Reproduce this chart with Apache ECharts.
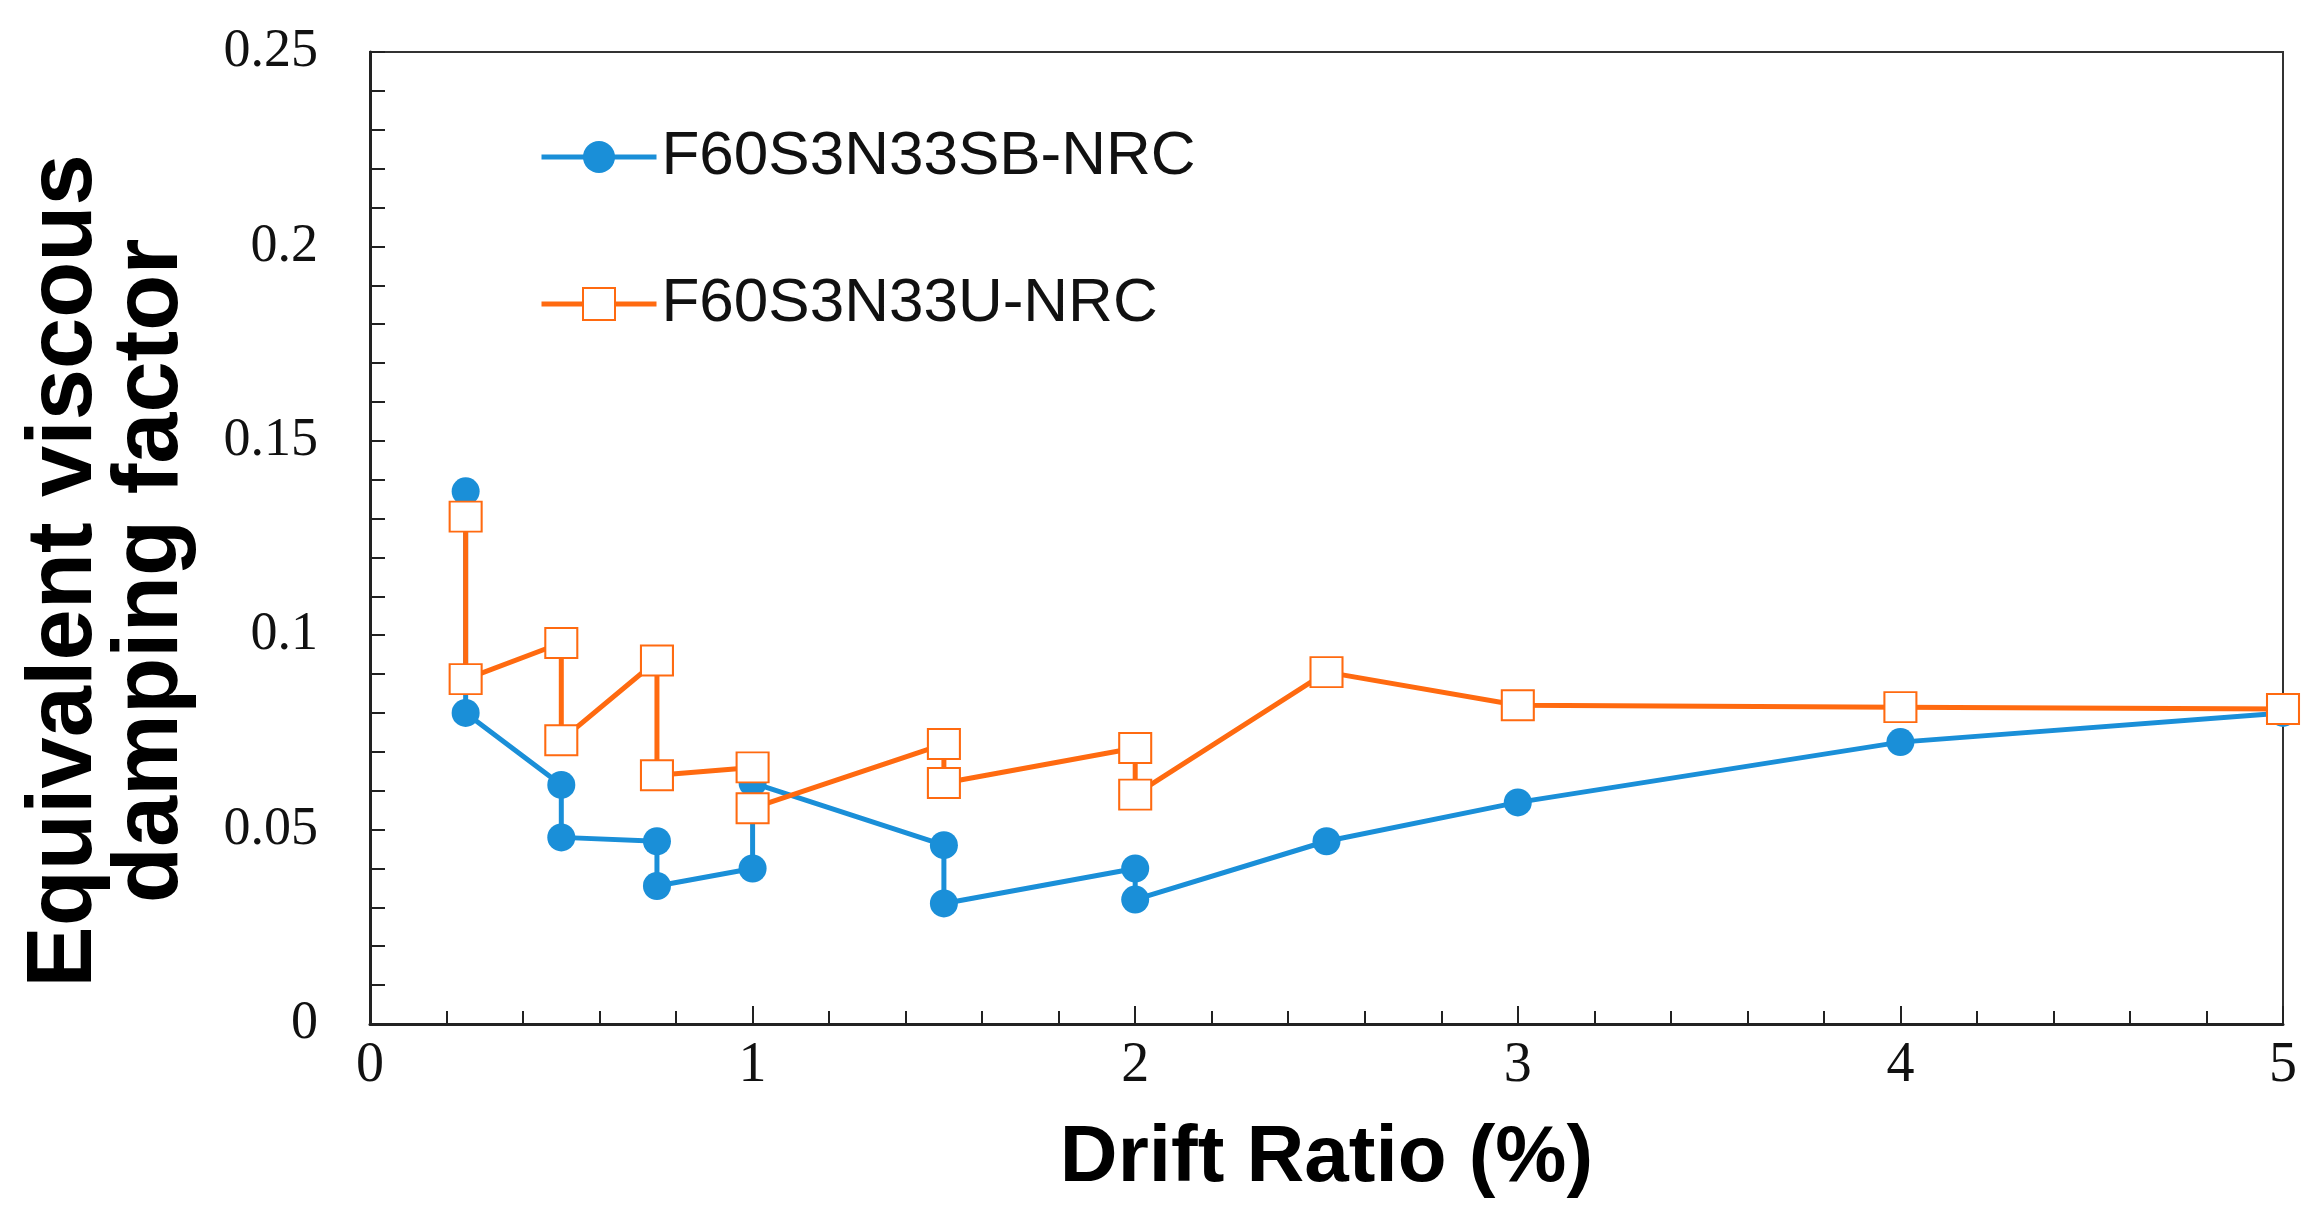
<!DOCTYPE html>
<html>
<head>
<meta charset="utf-8">
<script src="https://cdn.jsdelivr.net/npm/echarts@6/dist/echarts.min.js"></script>
<style>
html,body{margin:0;padding:0;background:#fff;}
#chart{width:2320px;height:1226px;}
</style>
</head>
<body>
<div id="chart"></div>
<script>
// Drift ratio (%) and damping factor values
const seriesNames = ['F60S3N33SB-NRC', 'F60S3N33U-NRC'];
const blueX = [0.25, 0.25, 0.5, 0.5, 0.75, 0.75, 1, 1, 1.5, 1.5, 2, 2, 2.5, 3, 4, 5];
const blueY = [0.137, 0.080, 0.0615, 0.048, 0.047, 0.0355, 0.040, 0.062, 0.046, 0.031, 0.040, 0.032, 0.047, 0.057, 0.0725, 0.080];
const orangeX = [0.25, 0.25, 0.5, 0.5, 0.75, 0.75, 1, 1, 1.5, 1.5, 2, 2, 2.5, 3, 4, 5];
const orangeY = [0.1305, 0.0887, 0.098, 0.073, 0.0935, 0.064, 0.066, 0.0555, 0.072, 0.062, 0.071, 0.059, 0.0905, 0.082, 0.0815, 0.081];
const xTitle = 'Drift Ratio (%)';
const yTitle = 'Equivalent viscous\ndamping factor';

const zip = (xs, ys) => xs.map((x, i) => [x, ys[i]]);

const chart = echarts.init(document.getElementById('chart'), null, {renderer: 'canvas'});
chart.setOption({
  animation: false,
  backgroundColor: '#fff',
  grid: {
    left: 370, right: 37, top: 52, bottom: 202,
    show: true, borderColor: '#333', borderWidth: 2, backgroundColor: 'transparent'
  },
  legend: {
    orient: 'vertical',
    left: 534, top: 121,
    itemWidth: 115, itemHeight: 40, itemGap: 85,
    lineStyle: {width: 5},
    textStyle: {fontFamily: 'Liberation Sans, Arial, sans-serif', fontSize: 62, lineHeight: 62, color: '#111'},
    data: seriesNames
  },
  xAxis: {
    type: 'value', min: 0, max: 5, interval: 1,
    name: xTitle, nameLocation: 'middle', nameGap: 95,
    nameTextStyle: {fontFamily: 'Liberation Sans, Arial, sans-serif', fontWeight: 'bold', fontSize: 80, color: '#000'},
    axisLine: {show: true, lineStyle: {color: '#222', width: 3}},
    axisTick: {show: true, inside: true, length: 18, lineStyle: {color: '#222', width: 2}},
    minorTick: {show: true, splitNumber: 5, length: 13, lineStyle: {color: '#222', width: 2}},
    axisLabel: {fontFamily: 'Liberation Serif, Times New Roman, serif', fontSize: 56, color: '#111', margin: 14},
    splitLine: {show: false}
  },
  yAxis: {
    type: 'value', min: 0, max: 0.25, interval: 0.05,
    name: yTitle, nameLocation: 'middle', nameGap: 175,
    nameTextStyle: {fontFamily: 'Liberation Sans, Arial, sans-serif', fontWeight: 'bold', fontSize: 92, lineHeight: 86, color: '#000', padding: [0, 66, 0, 0]},
    axisLine: {show: true, lineStyle: {color: '#222', width: 3}},
    axisTick: {show: true, inside: true, length: 15, lineStyle: {color: '#222', width: 2}},
    minorTick: {show: true, splitNumber: 5, length: 15, lineStyle: {color: '#222', width: 2}},
    axisLabel: {fontFamily: 'Liberation Serif, Times New Roman, serif', fontSize: 54, color: '#111', margin: 52},
    splitLine: {show: false}
  },
  series: [
    {
      name: seriesNames[0], type: 'line', data: zip(blueX, blueY),
      symbol: 'circle', symbolSize: 28,
      lineStyle: {color: '#1a8fd8', width: 5},
      itemStyle: {color: '#1a8fd8'}
    },
    {
      name: seriesNames[1], type: 'line', data: zip(orangeX, orangeY),
      symbol: 'emptyRect', symbolSize: [32, 30],
      lineStyle: {color: '#ff6a10', width: 5},
      itemStyle: {color: '#ff6a10', borderWidth: 3.5}
    }
  ]
});
</script>
</body>
</html>
